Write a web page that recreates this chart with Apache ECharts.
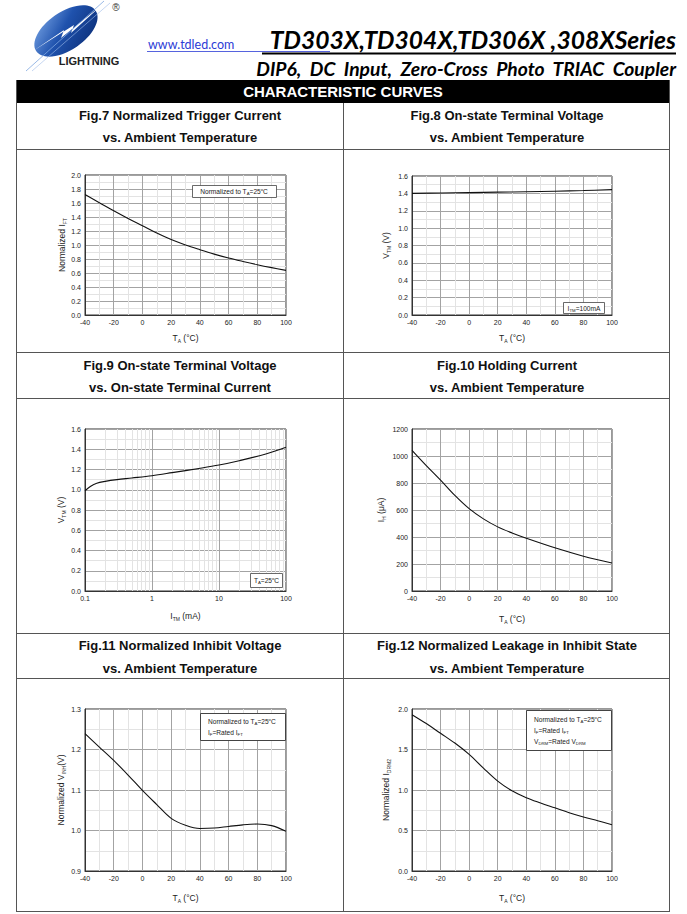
<!DOCTYPE html>
<html><head><meta charset="utf-8">
<script src="https://cdn.jsdelivr.net/npm/echarts@6/dist/echarts.min.js"></script>
<style>html,body{margin:0;padding:0;background:#fff;}#c{width:687px;height:914px;}</style>
</head><body><div id="c"></div>
<script>
// ---------------- DATA ----------------
const tempTicks = [-40, -20, 0, 20, 40, 60, 80, 100];

const fig7X = [-40, -30, -20, -10, 0, 10, 20, 30, 40, 50, 60, 70, 80, 90, 100];
const fig7Y = [1.72, 1.605, 1.49, 1.38, 1.275, 1.17, 1.077, 1.00, 0.933, 0.87, 0.814, 0.765, 0.719, 0.677, 0.638];
const fig7YTicks = [0.0, 0.2, 0.4, 0.6, 0.8, 1.0, 1.2, 1.4, 1.6, 1.8, 2.0];

const fig8X = [-40, -20, 0, 20, 40, 60, 80, 100];
const fig8Y = [1.400, 1.404, 1.409, 1.414, 1.419, 1.425, 1.433, 1.443];
const fig8YTicks = [0.0, 0.2, 0.4, 0.6, 0.8, 1.0, 1.2, 1.4, 1.6];

const fig9X = [0.1, 0.12, 0.15, 0.2, 0.3, 0.5, 1, 2, 5, 10, 20, 50, 100];
const fig9Y = [0.99, 1.032, 1.065, 1.083, 1.10, 1.116, 1.139, 1.169, 1.21, 1.244, 1.287, 1.353, 1.42];
const fig9XTicks = [0.1, 1, 10, 100];
const fig9YTicks = [0.0, 0.2, 0.4, 0.6, 0.8, 1.0, 1.2, 1.4, 1.6];

const fig10X = [-40, -30, -20, -10, 0, 10, 20, 30, 40, 60, 80, 100];
const fig10Y = [1042, 929, 821, 708, 610, 534, 475, 430, 391, 320, 258, 207];
const fig10YTicks = [0, 200, 400, 600, 800, 1000, 1200];

const fig11X = [-40, -30, -20, -10, 0, 10, 20, 30, 40, 50, 60, 70, 80, 90, 100];
const fig11Y = [1.239, 1.206, 1.173, 1.137, 1.099, 1.064, 1.030, 1.013, 1.005, 1.006, 1.010, 1.014, 1.016, 1.012, 0.998];
const fig11YTicks = [0.9, 1.0, 1.1, 1.2, 1.3];

const fig12X = [-40, -30, -20, -10, 0, 10, 20, 30, 40, 50, 60, 70, 80, 90, 100];
const fig12Y = [1.93, 1.82, 1.70, 1.58, 1.44, 1.27, 1.11, 0.99, 0.905, 0.84, 0.78, 0.72, 0.667, 0.62, 0.572];
const fig12YTicks = [0.0, 0.5, 1.0, 1.5, 2.0];

const figTitles = [
  ['Fig.7 Normalized Trigger Current', 'vs. Ambient Temperature'],
  ['Fig.8 On-state Terminal Voltage', 'vs. Ambient Temperature'],
  ['Fig.9 On-state Terminal Voltage', 'vs. On-state Terminal Current'],
  ['Fig.10 Holding Current', 'vs. Ambient Temperature'],
  ['Fig.11 Normalized Inhibit Voltage', 'vs. Ambient Temperature'],
  ['Fig.12 Normalized Leakage in Inhibit State', 'vs. Ambient Temperature']
];

// ---------------- LAYOUT / STYLE ----------------
const AR = "'Liberation Sans', Arial, sans-serif";
const grids = [
  {left: 85, top: 175, width: 201, height: 140},
  {left: 412, top: 176, width: 200, height: 139},
  {left: 85, top: 429, width: 201, height: 162},
  {left: 412, top: 429, width: 200, height: 162},
  {left: 85, top: 709, width: 201, height: 162},
  {left: 412, top: 709, width: 200, height: 162}
];
const MAJ = '#a3a3a3', MIN = '#e3e3e3';
const nameRich = {
  n: {fontSize: 8.5, fontFamily: AR, color: '#222', lineHeight: 11},
  s: {fontSize: 5, fontFamily: AR, color: '#222', lineHeight: 6, verticalAlign: 'bottom'}
};

function axisCommon(gi, name, gap, fmt) {
  return {
    gridIndex: gi, name: name, nameLocation: 'middle', nameGap: gap,
    nameTextStyle: {rich: nameRich, fontFamily: AR, fontSize: 8.5, color: '#222'},
    axisLine: {show: true, onZero: false, lineStyle: {color: '#333', width: 1}},
    axisTick: {show: false},
    axisLabel: {fontSize: 7, fontFamily: AR, color: '#222', margin: 4, formatter: fmt, showMinLabel: true, showMaxLabel: true},
    splitLine: {show: true, lineStyle: {color: MAJ, width: 1}},
    minorTick: {show: false, splitNumber: 2},
    minorSplitLine: {show: true, lineStyle: {color: MIN, width: 1}}
  };
}
function valAxis(gi, ticks, name, gap, fmt) {
  return Object.assign(axisCommon(gi, name, gap, fmt), {
    type: 'value', min: ticks[0], max: ticks[ticks.length - 1], interval: ticks[1] - ticks[0]
  });
}
const f1 = v => v.toFixed(1);
const fi = v => String(Math.round(v));
const tName = '{n|T}{s|A}{n| (°C)}';

const xAxes = [
  valAxis(0, tempTicks, tName, 17, fi),
  valAxis(1, tempTicks, tName, 17, fi),
  Object.assign(axisCommon(2, '{n|I}{s|TM}{n| (mA)}', 19, v => v < 1 ? v.toFixed(1) : String(Math.round(v))),
    {type: 'log', logBase: 10, min: fig9XTicks[0], max: fig9XTicks[fig9XTicks.length - 1], minorSplitLine: {show: false}}),
  valAxis(3, tempTicks, tName, 22, fi),
  valAxis(4, tempTicks, tName, 21, fi),
  valAxis(5, tempTicks, tName, 21, fi)
];
const yAxes = [
  valAxis(0, fig7YTicks, '{n|Normalized I}{s|FT}', 18, f1),
  valAxis(1, fig8YTicks, '{n|V}{s|TM}{n| (V)}', 21, f1),
  valAxis(2, fig9YTicks, '{n|V}{s|TM}{n| (V)}', 19, f1),
  valAxis(3, fig10YTicks, '{n|I}{s|H}{n| (μA)}', 26, fi),
  valAxis(4, fig11YTicks, '{n|Normalized V}{s|INH}{n|(V)}', 19, f1),
  valAxis(5, fig12YTicks, '{n|Normalized I}{s|DRM2}', 21, f1)
];

const zip = (a, b) => a.map((v, i) => [v, b[i]]);
const seriesData = [[fig7X, fig7Y], [fig8X, fig8Y], [fig9X, fig9Y], [fig10X, fig10Y], [fig11X, fig11Y], [fig12X, fig12Y]];
const series = seriesData.map((d, i) => ({
  type: 'line', xAxisIndex: i, yAxisIndex: i, data: zip(d[0], d[1]),
  showSymbol: false, smooth: 0.35, silent: true, z: 5,
  lineStyle: {color: '#111', width: 1.1}
}));
// log-axis minor gridlines (2..9 per decade)
const logMinor = [];
for (let k = 0; k < fig9XTicks.length - 1; k++) for (let m = 2; m <= 9; m++) logMinor.push({xAxis: fig9XTicks[k] * m});
series.push({
  type: 'line', xAxisIndex: 2, yAxisIndex: 2, data: [], silent: true, z: 1,
  markLine: {silent: true, symbol: ['none', 'none'], label: {show: false}, animation: false,
    lineStyle: {color: MIN, type: 'solid', width: 1}, data: logMinor}
});

// ---------------- GRAPHICS: header, table, legends ----------------
const mctx = document.createElement('canvas').getContext('2d');
function fitSize(text, font, w) { mctx.font = font.replace('{s}', '100px'); return 100 * w / mctx.measureText(text).width; }

const G = [];
function line(x1, y1, x2, y2, color, w) { G.push({type: 'line', shape: {x1, y1, x2, y2}, style: {stroke: color, lineWidth: w}, silent: true}); }
function txt(x, y, text, opt) {
  G.push({type: 'text', x, y, silent: true, z: 20, style: Object.assign({text, fill: '#111', font: '13px ' + AR, align: 'center', verticalAlign: 'middle'}, opt)});
}

// logo
G.push({type: 'group', x: 66, y: 31, silent: true, children: [
  {type: 'ellipse', rotation: 0.6, shape: {cx: 0, cy: 0, rx: 36, ry: 19},
    style: {fill: new echarts.graphic.LinearGradient(0, 0, 1, 1, [{offset: 0, color: '#7aa6e6'}, {offset: 0.45, color: '#1f52ad'}, {offset: 1, color: '#0a2c74'}])}},
  {type: 'polygon', shape: {points: [[-33, 20], [-2, -1], [-5, 7], [37, -27], [5, 2], [8, -6]]}, style: {fill: '#fff'}},
  {type: 'line', shape: {x1: -40, y1: 40, x2: 38, y2: -30}, style: {stroke: '#7fa7e0', lineWidth: 0.8}},
  {type: 'line', shape: {x1: -34, y1: 40, x2: 44, y2: -28}, style: {stroke: '#9dbbe8', lineWidth: 0.6}}
]});
txt(89, 61, 'LIGHTNING', {font: 'bold 11px ' + AR, fill: '#222'});
txt(116, 7, '®', {font: '10px ' + AR, fill: '#333'});
txt(148, 44, 'www.tdled.com', {font: '12.5px Lato, ' + AR, fill: '#2b3bd6', align: 'left'});
line(147, 51.5, 330, 51.5, '#2b3bd6', 0.8);
line(262, 53.5, 676, 53.5, '#000', 2.2);
const ttl = 'TD303X,TD304X,TD306X ,308XSeries';
const tf = 'italic bold {s} Lato';
txt(676, 39, ttl, {font: tf.replace('{s}', fitSize(ttl, tf, 406).toFixed(1) + 'px'), fill: '#000', align: 'right'});
const sub = 'DIP6,  DC  Input,  Zero-Cross  Photo  TRIAC  Coupler';
txt(676, 68, sub, {font: tf.replace('{s}', fitSize(sub, tf, 421).toFixed(1) + 'px'), fill: '#000', align: 'right'});

// table
G.push({type: 'rect', shape: {x: 16, y: 80, width: 654, height: 23}, style: {fill: '#000'}, silent: true});
txt(343, 91.5, 'CHARACTERISTIC CURVES', {font: 'bold 15px ' + AR, fill: '#fff'});
const TC = '#555';
line(16.5, 80, 16.5, 911.5, TC, 1);
line(669.5, 80, 669.5, 911.5, TC, 1);
line(343.5, 103, 343.5, 911.5, TC, 1);
[149.5, 352.5, 398.5, 633.5, 678.5, 911.5].forEach(y => line(16, y, 670, y, TC, 1));
const rowY = [[115, 137], [365, 387], [645, 668]];
figTitles.forEach((t, i) => {
  const cx = i % 2 === 0 ? 180 : 507;
  const r = rowY[Math.floor(i / 2)];
  txt(cx, r[0], t[0], {font: 'bold 13px ' + AR, fill: '#111'});
  txt(cx, r[1], t[1], {font: 'bold 13px ' + AR, fill: '#111'});
});

// legend boxes
const lr = {
  a: {fontSize: 6.6, fontFamily: AR, fill: '#222', color: '#222', lineHeight: 8, verticalAlign: 'middle'},
  s: {fontSize: 4.3, fontFamily: AR, fill: '#222', color: '#222', lineHeight: 8, verticalAlign: 'bottom'},
  p: {fontSize: 4.3, fontFamily: AR, fill: '#222', color: '#222', lineHeight: 8, verticalAlign: 'top'}
};
function box(x, y, w, h, lw) { G.push({type: 'rect', z: 15, silent: true, shape: {x, y, width: w, height: h}, style: {fill: '#fff', stroke: '#444', lineWidth: lw}}); }
function rtxt(x, y, text, align) { G.push({type: 'text', x, y, z: 20, silent: true, style: {text, rich: lr, align: align || 'center', verticalAlign: 'middle', fill: '#222', font: '6.6px ' + AR}}); }
const normTA = '{a|Normalized to T}{s|A}{a|=25}{p|o}{a|C}';
box(192.5, 185.5, 84, 12, 0.8); rtxt(234, 191.5, normTA);
box(563.5, 302.5, 41, 11, 0.8); rtxt(584, 308, '{a|I}{s|TM}{a|=100mA}');
box(250.5, 573.5, 32, 14, 0.8); rtxt(266.5, 580.5, '{a|T}{s|A}{a|=25}{p|o}{a|C}');
box(200.5, 713.5, 85, 27, 1); rtxt(208, 721, normTA, 'left'); rtxt(208, 732, '{a|I}{s|F}{a|=Rated I}{s|FT}', 'left');
box(526.5, 710.5, 85, 40, 1); rtxt(534, 719, normTA, 'left'); rtxt(534, 730, '{a|I}{s|F}{a|=Rated I}{s|FT}', 'left'); rtxt(534, 741, '{a|V}{s|DRM}{a|=Rated V}{s|DRM}', 'left');

const chart = echarts.init(document.getElementById('c'), null, {renderer: 'svg', width: 687, height: 914});
chart.setOption({
  animation: false,
  backgroundColor: '#fff',
  grid: grids.map(g => Object.assign({show: true, borderColor: '#333', borderWidth: 1, backgroundColor: 'transparent', containLabel: false}, g)),
  xAxis: xAxes,
  yAxis: yAxes,
  series: series,
  graphic: {elements: G}
});
</script></body></html>
